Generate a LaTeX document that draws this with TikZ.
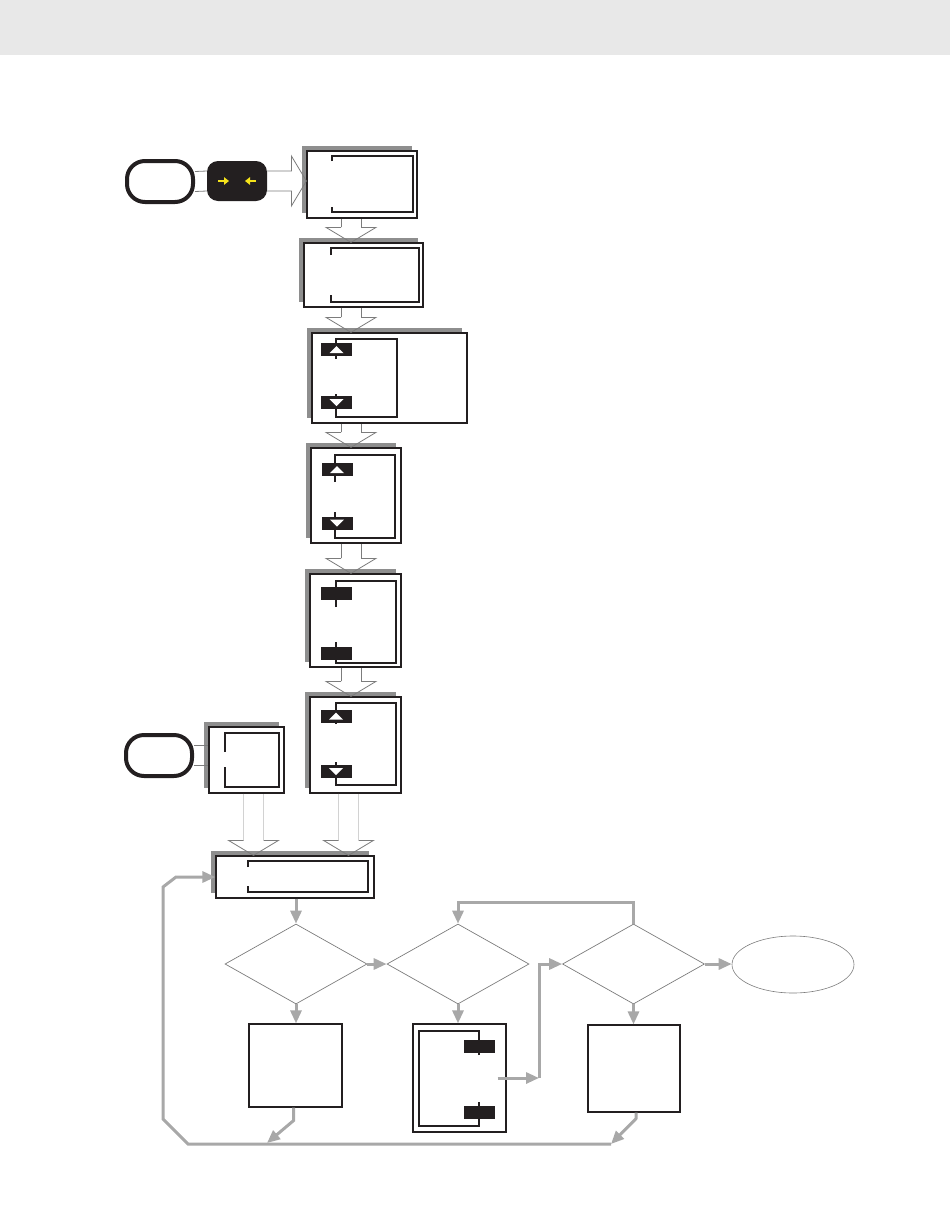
\documentclass[tikz,border=0pt]{standalone}
\usetikzlibrary{shapes.geometric,shadows,arrows.meta,calc}

\definecolor{headgray}{HTML}{E8E8E8}
\definecolor{shadegray}{HTML}{8E8E8E}
\definecolor{flowgray}{HTML}{A8A8A8}
\definecolor{outlinegray}{HTML}{7C7C7C}
\definecolor{shaftgray}{HTML}{D2D2D2}
\definecolor{keyblack}{HTML}{231F20}
\definecolor{keyyellow}{HTML}{F5E31A}

\tikzset{
  panel/.style={draw=keyblack, line width=1.2pt, fill=white, inner sep=0pt,
    general shadow={fill=shadegray, shadow xshift=-5pt, shadow yshift=5pt}},
  plainbox/.style={draw=keyblack, line width=1.2pt, fill=white, inner sep=0pt},
  bracket/.style={draw=keyblack, line width=1.1pt},
  softkey/.style={fill=keyblack, minimum width=31pt, minimum height=13pt, inner sep=0pt},
  endkey/.style={draw=keyblack, line width=4pt, fill=white, rounded corners=18pt,
    minimum width=66pt, minimum height=41pt, inner sep=0pt},
  cursorkey/.style={fill=keyblack, rounded corners=11pt, minimum width=60pt,
    minimum height=40pt, inner sep=0pt},
  decide/.style={diamond, draw=outlinegray, line width=0.7pt, minimum width=142pt,
    minimum height=80pt, inner sep=0pt},
  finish/.style={ellipse, draw=outlinegray, line width=0.6pt, minimum width=122pt,
    minimum height=57pt, inner sep=0pt},
  hollow/.style={draw=outlinegray, line width=0.8pt},
  flow/.style={draw=flowgray, line width=3pt, -{Triangle[length=13pt,width=11pt]}},
  cursor/.style={draw=keyyellow, line width=2pt, -{Triangle[length=5pt,width=7.5pt]}}
}

\begin{document}
\begin{tikzpicture}[x=1pt, y=-1pt]
  \useasboundingbox (0,0) rectangle (950,1229);
  % Header band
  \fill[headgray] (0,0) rectangle (950,55);

  % Keys on the left
  \node[endkey] (oval1) at (160,181.5) {};
  \node[cursorkey] (btn) at (237,181) {};
  \node[endkey] (oval2) at (159,755.5) {};
  \draw[cursor] ([xshift=-19pt]btn.center) -- ([xshift=-8pt]btn.center);
  \draw[cursor] ([xshift=19pt]btn.center) -- ([xshift=8pt]btn.center);

  % Panels
  \node[panel, minimum width=110pt, minimum height=67pt] (b1) at (362,184.5) {};
  \node[panel, minimum width=119pt, minimum height=64pt] (b2) at (363.5,275) {};
  \node[panel, minimum width=155pt, minimum height=90pt] (b3) at (389.5,378) {};
  \node[panel, minimum width=90pt, minimum height=95pt] (b4) at (356,495.5) {};
  \node[panel, minimum width=91pt, minimum height=93pt] (b5) at (355.5,620.5) {};
  \node[panel, minimum width=91pt, minimum height=96pt] (b6) at (355.5,745) {};
  \node[panel, minimum width=75pt, minimum height=66pt] (b7) at (246.5,760) {};
  \node[panel, minimum width=158pt, minimum height=42pt] (b8) at (295,877) {};

  % Flow chart
  \node[decide] (d1) at (296,964) {};
  \node[decide] (d2) at (458,964) {};
  \node[decide] (d3) at (633.5,964) {};
  \node[finish] (fin) at (793,964.5) {};
  \node[plainbox, minimum width=93pt, minimum height=83pt] (b9) at (295.5,1065.5) {};
  \node[plainbox, minimum width=93pt, minimum height=108pt] (b10) at (459.5,1078) {};
  \node[plainbox, minimum width=92pt, minimum height=87pt] (b11) at (634,1068.5) {};

  % Brackets inside the panels
  \foreach \xl/\yt/\xr/\yb/\ya/\yc in {332/156/413/212/161/207, 331/248/419/302/255/295,
      336/339/397/417/359/394, 335/455/395/538/482/512, 336/581/396/663/607/642,
      336/703/396/785/724/762, 225/733/279/787/752/767, 248/861/368/892/867/886} {
    \draw[bracket] (\xl,\ya) -- (\xl,\yt) -- (\xr,\yt) -- (\xr,\yb) -- (\xl,\yb) -- (\xl,\yc);
  }
  \draw[bracket] (479,1055) -- (479,1031) -- (419,1031) -- (419,1126) -- (479,1126) -- (479,1102);

  % Soft keys
  \foreach \n/\x/\y in {k3u/336.5/349.5, k3d/336.5/402.5, k4u/337/469.5, k4d/337/523,
      k5a/336/593, k5b/336/653, k6u/336/716, k6d/336/771.5, k10a/479.5/1046.5, k10b/479.5/1112}
    \node[softkey] (\n) at (\x,\y) {};
  \foreach \n in {k3u,k4u,k6u}
    \fill[white] ([shift={(-7,3.5)}]\n.center) -- ([shift={(7,3.5)}]\n.center) -- ([shift={(0,-3.5)}]\n.center) -- cycle;
  \foreach \n in {k3d,k4d,k6d}
    \fill[white] ([shift={(-7,-3.5)}]\n.center) -- ([shift={(7,-3.5)}]\n.center) -- ([shift={(0,3.5)}]\n.center) -- cycle;

  % Hollow arrows
  \draw[hollow] ([yshift=10pt]oval1.east) -- ([yshift=10pt]btn.west);
  \draw[hollow] ([yshift=-10pt]oval1.east) -- ([yshift=-10pt]btn.west);
  \path (b1.west |- btn.east) coordinate (t);
  \draw[hollow] ([yshift=10pt]btn.east) -- ([xshift=-15pt,yshift=10pt]t) -- ([xshift=-15pt,yshift=25pt]t)
    -- (t) -- ([xshift=-15pt,yshift=-25pt]t) -- ([xshift=-15pt,yshift=-10pt]t) -- ([yshift=-10pt]btn.east);
  \draw[hollow] ([yshift=10pt]oval2.east) -- ([yshift=10pt]oval2.east -| b7.west);
  \draw[hollow] ([yshift=-10pt]oval2.east) -- ([yshift=-10pt]oval2.east -| b7.west);
  \coordinate (col) at (351,0);
  \coordinate (c7) at (253.5,0);
  \coordinate (c6) at (348.5,0);
  \foreach \pa/\pb/\cx/\sc in {b1/b2/col/outlinegray, b2/b3/col/outlinegray, b3/b4/col/outlinegray,
      b4/b5/col/outlinegray, b5/b6/col/outlinegray, b7/b8/c7/shaftgray, b6/b8/c6/shaftgray} {
    \path (\pa.south -| \cx) coordinate (s) (\pb.north -| \cx) coordinate (t);
    \draw[hollow, draw=\sc] ([xshift=-10pt]s) -- ([shift={(-10,-15)}]t)
      ([shift={(10,-15)}]t) -- ([xshift=10pt]s);
    \draw[hollow] ([shift={(-10,-15)}]t) -- ([shift={(-25,-15)}]t) -- (t)
      -- ([shift={(25,-15)}]t) -- ([shift={(10,-15)}]t);
  }

  % Flow connectors
  \draw[flow] (d1.north |- b8.south) -- (d1.north);
  \draw[flow] (d1.east) -- (d2.west);
  \draw[flow] (d1.south) -- (d1.south |- b9.north);
  \draw[flow] (d2.south) -- (d2.south |- b10.north);
  \coordinate (c10) at (539,1078);
  \draw[flow] ([xshift=-9pt]b10.east) -- (c10);
  \draw[flow] (c10) |- (d3.west);
  \draw[flow] (d3.east) -- (d3.east -| fin.west);
  \draw[flow] (d3.north) -- ++(0,-21) -| (d2.north);
  \draw[flow] (d3.south) -- (d3.south |- b11.north);
  \coordinate (j1) at (267,1143);
  \coordinate (j2) at (611,1144);
  \draw[flow] ([xshift=-2pt]b9.south) -- ++(0,13) -- (j1);
  \draw[flow] ([xshift=2pt]b11.south) -- ++(0,6) -- (j2);
  \draw[flow] (j2) -- (188,1144) -- (163,1119) -- (163,887) -- (176,877) -- (b8.west);
\end{tikzpicture}
\end{document}
